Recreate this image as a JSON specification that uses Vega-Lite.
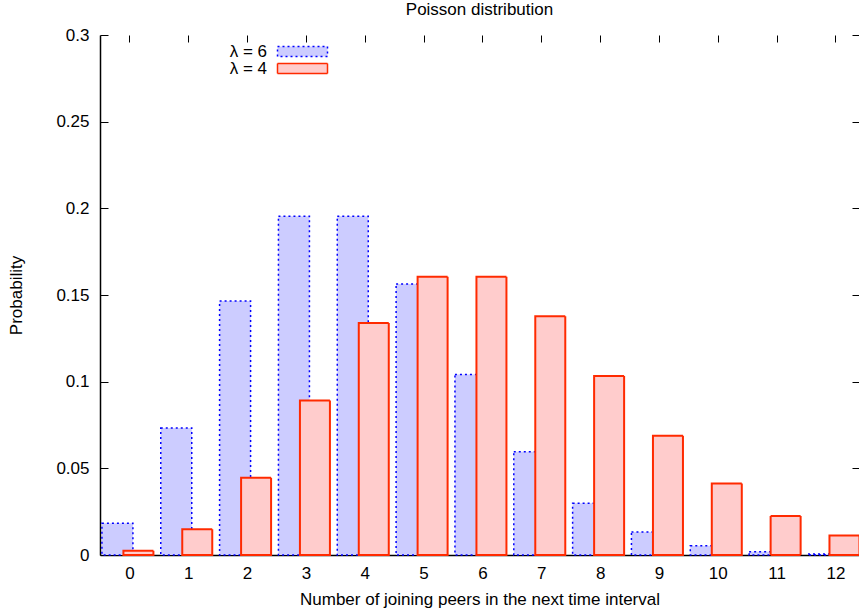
{
  "$schema": "https://vega.github.io/schema/vega-lite/v6.json",
  "width": 759,
  "height": 520,
  "autosize": {"type": "none"},
  "padding": {"left": 100, "top": 35, "right": 0, "bottom": 58},
  "background": "white",
  "config": {
    "view": {"stroke": null},
    "font": "Liberation Sans",
    "axis": {
      "domainColor": "black",
      "tickColor": "black",
      "labelColor": "black",
      "titleColor": "black",
      "labelFont": "Liberation Sans",
      "titleFont": "Liberation Sans",
      "labelFontSize": 17,
      "titleFontSize": 17,
      "titleFontWeight": "normal",
      "grid": false,
      "domainWidth": 1.5,
      "tickWidth": 1,
      "labelFlush": false,
      "labelOverlap": false
    },
    "legend": {
      "orient": "none",
      "legendX": 194,
      "legendY": 8,
      "title": null,
      "symbolType": "M-5,-1H5V1H-5Z",
      "symbolSize": 100,
      "symbolStrokeWidth": 1.5,
      "labelFont": "Liberation Sans",
      "labelFontSize": 17,
      "labelColor": "black",
      "labelAlign": "right",
      "labelOffset": -44,
      "rowPadding": -2,
      "symbolOpacity": 1
    }
  },
  "title": {
    "text": "Poisson distribution",
    "font": "Liberation Sans",
    "fontSize": 17,
    "fontWeight": "normal",
    "color": "black",
    "anchor": "middle",
    "frame": "group",
    "baseline": "alphabetic",
    "offset": -6
  },
  "data": {
    "values": [
      {"k": 0, "p": 0.0183, "series": "λ = 6"},
      {"k": 1, "p": 0.0733, "series": "λ = 6"},
      {"k": 2, "p": 0.1465, "series": "λ = 6"},
      {"k": 3, "p": 0.1954, "series": "λ = 6"},
      {"k": 4, "p": 0.1954, "series": "λ = 6"},
      {"k": 5, "p": 0.1563, "series": "λ = 6"},
      {"k": 6, "p": 0.1042, "series": "λ = 6"},
      {"k": 7, "p": 0.0595, "series": "λ = 6"},
      {"k": 8, "p": 0.0298, "series": "λ = 6"},
      {"k": 9, "p": 0.0132, "series": "λ = 6"},
      {"k": 10, "p": 0.0053, "series": "λ = 6"},
      {"k": 11, "p": 0.0019, "series": "λ = 6"},
      {"k": 12, "p": 0.0006, "series": "λ = 6"},
      {"k": 0, "p": 0.0025, "series": "λ = 4"},
      {"k": 1, "p": 0.0149, "series": "λ = 4"},
      {"k": 2, "p": 0.0446, "series": "λ = 4"},
      {"k": 3, "p": 0.0892, "series": "λ = 4"},
      {"k": 4, "p": 0.1339, "series": "λ = 4"},
      {"k": 5, "p": 0.1606, "series": "λ = 4"},
      {"k": 6, "p": 0.1606, "series": "λ = 4"},
      {"k": 7, "p": 0.1377, "series": "λ = 4"},
      {"k": 8, "p": 0.1033, "series": "λ = 4"},
      {"k": 9, "p": 0.0688, "series": "λ = 4"},
      {"k": 10, "p": 0.0413, "series": "λ = 4"},
      {"k": 11, "p": 0.0225, "series": "λ = 4"},
      {"k": 12, "p": 0.0113, "series": "λ = 4"}
    ]
  },
  "layer": [
    {
      "transform": [{"filter": {"field": "series", "equal": "λ = 6"}}],
      "mark": {"type": "bar", "orient": "vertical", "width": 31, "xOffset": -12, "strokeWidth": 1.5},
      "encoding": {
        "x": {
          "field": "k", "type": "quantitative",
          "scale": {"domain": [-0.5, 12.4], "nice": false, "zero": false, "padding": 0},
          "axis": {
            "orient": "bottom",
            "values": [0, 1, 2, 3, 4, 5, 6, 7, 8, 9, 10, 11, 12],
            "format": "d",
            "ticks": false,
            "labelPadding": 10,
            "title": "Number of joining peers in the next time interval",
            "titlePadding": 10
          }
        },
        "y": {
          "field": "p", "type": "quantitative", "stack": null,
          "scale": {"domain": [0, 0.3], "nice": false, "padding": 0},
          "axis": {
            "orient": "left",
            "values": [0, 0.05, 0.1, 0.15, 0.2, 0.25, 0.3],
            "format": "~g",
            "tickSize": -8,
            "labelPadding": 19,
            "title": "Probability",
            "titlePadding": 30
          }
        },
        "fill": {"field": "series", "type": "nominal", "scale": {"domain": ["λ = 6", "λ = 4"], "range": ["#ccccff", "#ffcccc"]}},
        "stroke": {"field": "series", "type": "nominal", "scale": {"domain": ["λ = 6", "λ = 4"], "range": ["#0000ff", "#ff2a00"]}},
        "strokeDash": {"field": "series", "type": "nominal", "scale": {"domain": ["λ = 6", "λ = 4"], "range": [[2, 3], [1, 0]]}}
      }
    },
    {
      "transform": [{"filter": {"field": "series", "equal": "λ = 4"}}],
      "mark": {"type": "bar", "orient": "vertical", "width": 30, "xOffset": 9, "strokeWidth": 2},
      "encoding": {
        "x": {
          "field": "k", "type": "quantitative",
          "axis": {
            "orient": "top",
            "values": [0, 1, 2, 3, 4, 5, 6, 7, 8, 9, 10, 11, 12],
            "labels": false,
            "domain": false,
            "tickSize": -7,
            "title": null
          }
        },
        "y": {
          "field": "p", "type": "quantitative", "stack": null,
          "axis": {
            "orient": "right",
            "values": [0, 0.05, 0.1, 0.15, 0.2, 0.25, 0.3],
            "labels": false,
            "domain": false,
            "tickSize": -7,
            "title": null
          }
        },
        "fill": {"field": "series", "type": "nominal"},
        "stroke": {"field": "series", "type": "nominal"},
        "strokeDash": {"field": "series", "type": "nominal"}
      }
    }
  ],
  "resolve": {"axis": {"x": "independent", "y": "independent"}}
}
